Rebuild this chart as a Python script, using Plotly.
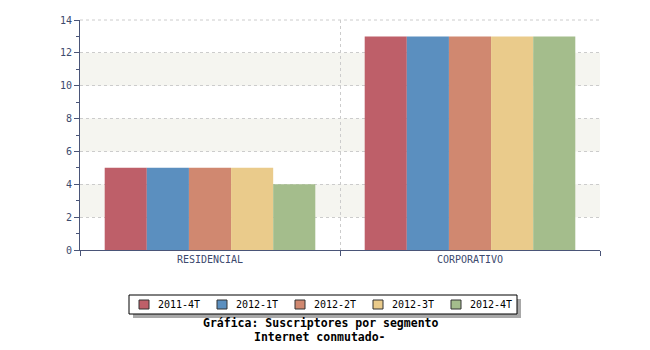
import plotly.graph_objects as go

categories = ["RESIDENCIAL", "CORPORATIVO"]
series_names = ["2011-4T", "2012-1T", "2012-2T", "2012-3T", "2012-4T"]
values = [
    [5, 13],
    [5, 13],
    [5, 13],
    [5, 13],
    [4, 13],
]
colors = ["#BE5F69", "#5B8FBF", "#D08870", "#EACB8B", "#A4BD8C"]
title_lines = ["Gráfica: Suscriptores por segmento", "Internet conmutado-"]

W, H = 650, 350
L, R, T, B = 80, 50, 20, 100
pw, ph = W - L - R, H - T - B

def px_x(x):
    return (x - L) / pw

def px_y(y):
    return (H - B - y) / ph

text_color = "#3C4A6E"
axis_color = "#4A5578"
mono = "DejaVu Sans Mono"

fig = go.Figure()
for name, vals, c in zip(series_names, values, colors):
    fig.add_trace(go.Bar(x=categories, y=vals, name=name, showlegend=False,
                         marker=dict(color=c, line=dict(width=0))))

shapes = []
# alternating background bands
for y0 in [2, 6, 10]:
    shapes.append(dict(type="rect", xref="paper", yref="y", x0=0, x1=1, y0=y0, y1=y0 + 2,
                       fillcolor="#F5F5F0", line=dict(width=0), layer="below"))
# top gridline
shapes.append(dict(type="line", xref="paper", yref="paper", x0=0, x1=1, y0=1, y1=1,
                   line=dict(color="#CCCCCC", width=1, dash="dot"), layer="below"))

# manual legend
box_l, box_r, box_t, box_b = 129, 517, 295, 314
shapes.append(dict(type="rect", xref="paper", yref="paper",
                   x0=px_x(box_l + 4), x1=px_x(box_r + 4), y0=px_y(box_b + 4), y1=px_y(box_t + 4),
                   fillcolor="#A8A8A8", line=dict(width=0), layer="above"))
shapes.append(dict(type="rect", xref="paper", yref="paper",
                   x0=px_x(box_l), x1=px_x(box_r), y0=px_y(box_b), y1=px_y(box_t),
                   fillcolor="white", line=dict(color="black", width=1), layer="above"))
annotations = []
item_x0, item_step = 139, 78
for i, (name, c) in enumerate(zip(series_names, colors)):
    sx = item_x0 + i * item_step
    shapes.append(dict(type="rect", xref="paper", yref="paper",
                       x0=px_x(sx), x1=px_x(sx + 10), y0=px_y(309), y1=px_y(300),
                       fillcolor=c, line=dict(color="#333333", width=1), layer="above"))
    annotations.append(dict(xref="paper", yref="paper", x=px_x(sx + 17), y=px_y(304.5),
                            xanchor="left", yanchor="middle", showarrow=False, text=name,
                            font=dict(family=mono, size=10, color="black")))

for j, (line, yc) in enumerate(zip(title_lines, [323, 337])):
    annotations.append(dict(xref="paper", yref="paper", x=px_x(320), y=px_y(yc),
                            xanchor="center", yanchor="middle", showarrow=False,
                            text="<b>" + line + "</b>",
                            font=dict(family=mono, size=11.5, color="black")))

fig.update_layout(
    width=W, height=H,
    margin=dict(l=L, r=R, t=T, b=B),
    paper_bgcolor="white", plot_bgcolor="white",
    barmode="group", bargap=0.19, bargroupgap=0,
    shapes=shapes,
    annotations=annotations,
    font=dict(family=mono, color=text_color),
    showlegend=False,
)

fig.update_xaxes(
    type="category", range=[-0.5, 1.5],
    tickson="boundaries", ticks="outside", ticklen=5, tickcolor=axis_color,
    showgrid=True, gridcolor="#CCCCCC", griddash="dot", gridwidth=1,
    showline=True, linecolor=axis_color, linewidth=1,
    tickfont=dict(family=mono, size=10, color=text_color),
)
fig.update_yaxes(
    range=[0, 14], dtick=2, tick0=0,
    ticks="outside", ticklen=5, tickcolor=axis_color,
    minor=dict(dtick=1, ticks="outside", ticklen=3, tickcolor=axis_color, showgrid=False),
    showgrid=True, gridcolor="#CCCCCC", griddash="dot", gridwidth=1,
    showline=True, linecolor=axis_color, linewidth=1,
    zeroline=False,
    tickfont=dict(family=mono, size=10, color=text_color),
)

fig.write_html("out.html")
